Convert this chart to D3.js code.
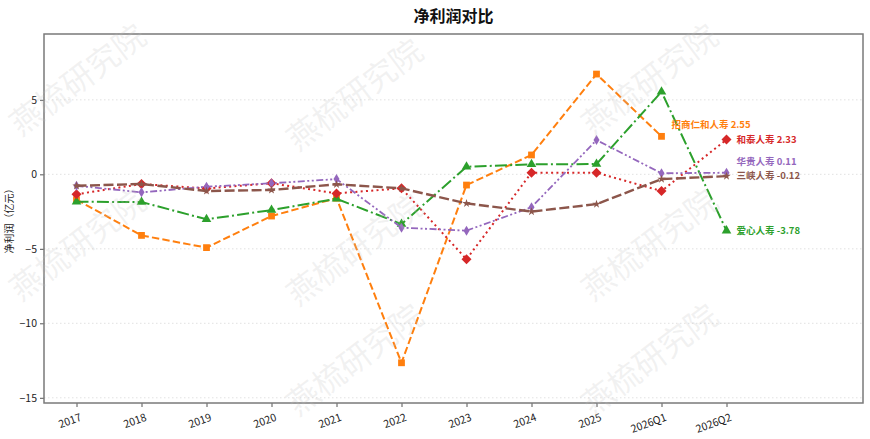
<!DOCTYPE html>
<html lang="zh">
<head>
  <meta charset="UTF-8">
  <title>净利润对比</title>
  <style>
    body { margin: 0; background: #fff; }
    text { font-family: "Noto Sans CJK SC", "DejaVu Sans", sans-serif; }
  </style>
</head>
<body>
  <div id="svg"></div>
</body>
<script src="https://cdn.jsdelivr.net/npm/d3@7/dist/d3.min.js"></script>
<script type="text/javascript">
  // 横轴类别
  const periods = ["2017", "2018", "2019", "2020", "2021", "2022", "2023", "2024", "2025", "2026Q1", "2026Q2"]
  const yTicks = [5, 0, -5, -10, -15]

  // 各公司净利润（亿元），null 表示无数据
  const zhaoshang = [-1.7, -4.1, -4.92, -2.8, -1.6, -12.65, -0.72, 1.3, 6.73, 2.55, null]
  const aixin = [-1.84, -1.86, -3.02, -2.4, -1.64, -3.34, 0.51, 0.67, 0.69, 5.54, -3.78]
  const hetai = [-1.34, -0.65, -0.95, -0.6, -1.28, -0.94, -5.7, 0.11, 0.11, -1.12, 2.33]
  const huagui = [-0.77, -1.21, -0.83, -0.6, -0.32, -3.58, -3.78, -2.21, 2.3, 0.07, 0.11]
  const sanxia = [-0.77, -0.65, -1.12, -1.05, -0.67, -0.94, -1.95, -2.5, -2.0, -0.32, -0.12]

  const names = ["招商仁和人寿", "爱心人寿", "和泰人寿", "华贵人寿", "三峡人寿"]
  const values = [zhaoshang, aixin, hetai, huagui, sanxia]

  // 样式：颜色、虚线、标记、标签偏移
  const styles = [
    { color: "#ff7f0e", dash: "7.4,3.2", width: 2, marker: "square", ldx: 10, ldy: -12 },
    { color: "#2ca02c", dash: "12,3.2,2,3.2", width: 2, marker: "triangle", ldx: 10, ldy: 0 },
    { color: "#d62728", dash: "2,3.3", width: 2, marker: "diamond", ldx: 10, ldy: 0 },
    { color: "#9467bd", dash: "7,2.5,2,2.5,2,2.5", width: 1.8, marker: "thin", ldx: 10, ldy: -11 },
    { color: "#8c564b", dash: "10,3.5", width: 2.4, marker: "star", ldx: 10, ldy: 0 }
  ]

  const width = 870
  const height = 439
  const plot = { left: 44, right: 863, top: 34, bottom: 403 }

  const svg = d3.select("#svg").append("svg").attr("width", width).attr("height", height)

  const xScale = d3.scaleLinear().domain([-0.5, 12.1]).range([plot.left, plot.right])
  const yScale = d3.scaleLinear().domain([-15.35, 9.42]).range([plot.bottom, plot.top])

  // 网格线
  svg.append("g").selectAll("line").data(yTicks).enter().append("line")
    .attr("x1", plot.left).attr("x2", plot.right)
    .attr("y1", d => yScale(d)).attr("y2", d => yScale(d))
    .attr("stroke", "#d9d9d9").attr("stroke-width", 0.8).attr("stroke-dasharray", "1.5,2.5")

  // 坐标轴
  const yAxis = d3.axisLeft(yScale).tickValues(yTicks).tickSize(4).tickPadding(3)
  const gy = svg.append("g").attr("transform", `translate(${plot.left},0)`).call(yAxis)
  gy.select(".domain").remove()
  gy.selectAll(".tick line").attr("stroke", "#555")
  gy.selectAll("text").attr("font-size", 10.5).attr("fill", "#222")

  const xAxis = d3.axisBottom(xScale).tickValues(d3.range(periods.length))
    .tickFormat(i => periods[i]).tickSize(4).tickPadding(3)
  const gx = svg.append("g").attr("transform", `translate(0,${plot.bottom})`).call(xAxis)
  gx.select(".domain").remove()
  gx.selectAll(".tick line").attr("stroke", "#555")
  gx.selectAll("text").attr("font-size", 10.5).attr("fill", "#222")
    .attr("text-anchor", "end").attr("dx", "-0.1em").attr("dy", "1.05em")
    .attr("transform", "rotate(-20)")

  // 边框
  svg.append("rect")
    .attr("x", plot.left).attr("y", plot.top)
    .attr("width", plot.right - plot.left).attr("height", plot.bottom - plot.top)
    .attr("fill", "none").attr("stroke", "#7a7a7a").attr("stroke-width", 1.5)

  // 标记形状
  const markerPath = (type) => {
    if (type === "square") return d3.symbol(d3.symbolSquare, 46)()
    if (type === "triangle") return d3.symbol(d3.symbolTriangle, 40)()
    if (type === "diamond") return "M0,-5L5,0L0,5L-5,0Z"
    if (type === "star") return d3.symbol(d3.symbolStar, 22)()
    return "M0,-5L3,0L0,5L-3,0Z"
  }

  const line = d3.line()
    .defined(d => d.v !== null)
    .x(d => xScale(d.i))
    .y(d => yScale(d.v))

  values.forEach((vals, s) => {
    const st = styles[s]
    const pts = vals.map((v, i) => ({ i, v }))
    const g = svg.append("g")
    g.append("path").datum(pts)
      .attr("fill", "none").attr("stroke", st.color)
      .attr("stroke-width", st.width).attr("stroke-dasharray", st.dash)
      .attr("d", line)
    g.selectAll("path.m").data(pts.filter(d => d.v !== null)).enter().append("path")
      .attr("class", "m")
      .attr("d", markerPath(st.marker))
      .attr("fill", st.color)
      .attr("transform", d => `translate(${xScale(d.i)},${yScale(d.v)})`)
  })

  // 末端标签
  values.forEach((vals, s) => {
    const st = styles[s]
    let last = vals.length - 1
    while (vals[last] === null) last--
    svg.append("text")
      .attr("x", xScale(last) + st.ldx)
      .attr("y", yScale(vals[last]) + st.ldy)
      .attr("dy", "0.35em")
      .attr("font-size", 9.5).attr("font-weight", "bold")
      .attr("fill", st.color)
      .text(`${names[s]} ${vals[last].toFixed(2)}`)
  })

  // 标题
  svg.append("text")
    .attr("x", (plot.left + plot.right) / 2).attr("y", 22)
    .attr("text-anchor", "middle").attr("font-size", 16).attr("font-weight", "bold")
    .attr("fill", "#111")
    .text("净利润对比")

  svg.append("text")
    .attr("transform", `translate(13,${(plot.top + plot.bottom) / 2}) rotate(-90)`)
    .attr("text-anchor", "middle").attr("font-size", 10).attr("fill", "#222")
    .text("净利润（亿元）")

  // 水印
  const marks = [[78, 80], [355, 95], [650, 80], [78, 245], [355, 250], [650, 245], [355, 360], [650, 360]]
  svg.append("g").selectAll("text").data(marks).enter().append("text")
    .attr("transform", d => `translate(${d[0]},${d[1]}) rotate(-37)`)
    .attr("text-anchor", "middle").attr("dy", "0.35em")
    .attr("font-size", 32)
    .attr("fill", "#c0c0c0").attr("fill-opacity", 0.22)
    .text("燕梳研究院")
</script>
</html>
